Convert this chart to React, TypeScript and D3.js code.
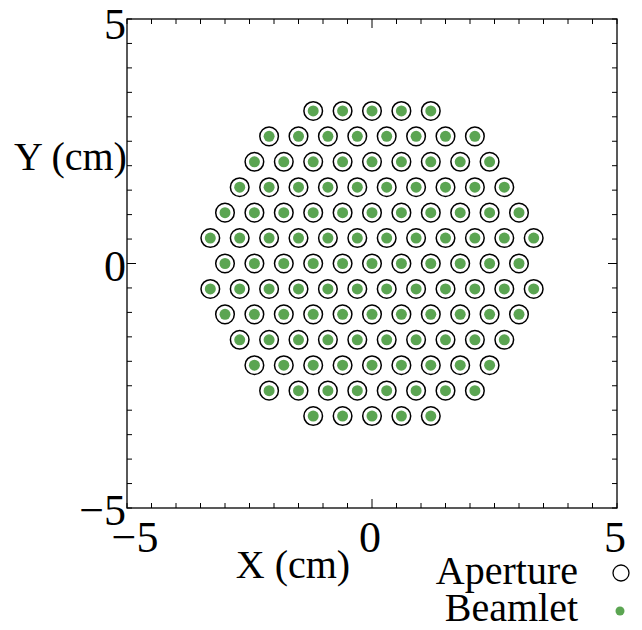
import React from "react";
import * as d3 from "d3";

// beamlet grid, one entry per row (y in cm), x positions in cm
const rowY = [3.12, 2.6, 2.08, 1.56, 1.04, 0.52, 0, -0.52, -1.04, -1.56, -2.08, -2.6, -3.12];
const rowX = [
  [-1.2, -0.6, 0, 0.6, 1.2],
  [-2.1, -1.5, -0.9, -0.3, 0.3, 0.9, 1.5, 2.1],
  [-2.4, -1.8, -1.2, -0.6, 0, 0.6, 1.2, 1.8, 2.4],
  [-2.7, -2.1, -1.5, -0.9, -0.3, 0.3, 0.9, 1.5, 2.1, 2.7],
  [-3, -2.4, -1.8, -1.2, -0.6, 0, 0.6, 1.2, 1.8, 2.4, 3],
  [-3.3, -2.7, -2.1, -1.5, -0.9, -0.3, 0.3, 0.9, 1.5, 2.1, 2.7, 3.3],
  [-3, -2.4, -1.8, -1.2, -0.6, 0, 0.6, 1.2, 1.8, 2.4, 3],
  [-3.3, -2.7, -2.1, -1.5, -0.9, -0.3, 0.3, 0.9, 1.5, 2.1, 2.7, 3.3],
  [-3, -2.4, -1.8, -1.2, -0.6, 0, 0.6, 1.2, 1.8, 2.4, 3],
  [-2.7, -2.1, -1.5, -0.9, -0.3, 0.3, 0.9, 1.5, 2.1, 2.7],
  [-2.4, -1.8, -1.2, -0.6, 0, 0.6, 1.2, 1.8, 2.4],
  [-2.1, -1.5, -0.9, -0.3, 0.3, 0.9, 1.5, 2.1],
  [-1.2, -0.6, 0, 0.6, 1.2],
];
const majorTicks = [-5, 0, 5];
const tickLabels = ["\u22125", "0", "5"];

const W = 642;
const H = 630;
const margin = { top: 19, right: 25, bottom: 122, left: 127 };
const font = "'Liberation Serif', 'Times New Roman', serif";
const green = "#5ba552";

export default function App() {
  const x = d3.scaleLinear().domain([-5, 5]).range([margin.left, W - margin.right]);
  const y = d3.scaleLinear().domain([-5, 5]).range([H - margin.bottom, margin.top]);

  const points = rowY.flatMap((yy, i) => rowX[i].map((xx) => ({ x: xx, y: yy })));
  const minor = d3.range(-5, 5.01, 0.5);

  const [x0, x1] = x.range();
  const [y0, y1] = y.range(); // y0 bottom, y1 top

  return (
    <svg width={W} height={H} style={{ position: "absolute", left: 0, top: 0 }} fontFamily={font}>
      <rect x={0} y={0} width={W} height={H} fill="white" />
      {/* ticks on all four sides, pointing in */}
      <g stroke="black" strokeWidth={1}>
        {minor.map((t) => {
          const len = Math.abs(t) < 1e-6 ? 9 : 5;
          return (
            <g key={t}>
              <line x1={x(t)} x2={x(t)} y1={y0} y2={y0 - len} />
              <line x1={x(t)} x2={x(t)} y1={y1} y2={y1 + len} />
              <line x1={x0} x2={x0 + len} y1={y(t)} y2={y(t)} />
              <line x1={x1} x2={x1 - len} y1={y(t)} y2={y(t)} />
            </g>
          );
        })}
      </g>
      <rect x={x0} y={y1} width={x1 - x0} height={y0 - y1} fill="none" stroke="black" strokeWidth={1.3} />

      {points.map((p, i) => (
        <g key={i}>
          <circle cx={x(p.x)} cy={y(p.y)} r={9.3} fill="white" stroke="black" strokeWidth={1.5} />
          <circle cx={x(p.x)} cy={y(p.y)} r={5.5} fill={green} />
        </g>
      ))}

      {/* tick labels */}
      {majorTicks.map((t, i) => (
        <text key={"x" + t} x={x(t) + (t < 0 ? 8 : -2)} y={552} fontSize={44} textAnchor="middle">
          {tickLabels[i]}
        </text>
      ))}
      {majorTicks.map((t, i) => (
        <text key={"y" + t} x={126} y={y(t) + (t > 0 ? 20 : 17)} fontSize={44} textAnchor="end">
          {tickLabels[i]}
        </text>
      ))}

      <text x={293} y={578} fontSize={40} textAnchor="middle">X (cm)</text>
      <text x={14} y={170} fontSize={40}>Y (cm)</text>

      {/* legend */}
      <text x={578} y={584} fontSize={40} textAnchor="end">Aperture</text>
      <circle cx={621} cy={573} r={8} fill="white" stroke="black" strokeWidth={1.3} />
      <text x={578} y={621} fontSize={40} textAnchor="end">Beamlet</text>
      <circle cx={620} cy={611} r={4.5} fill={green} />
    </svg>
  );
}
